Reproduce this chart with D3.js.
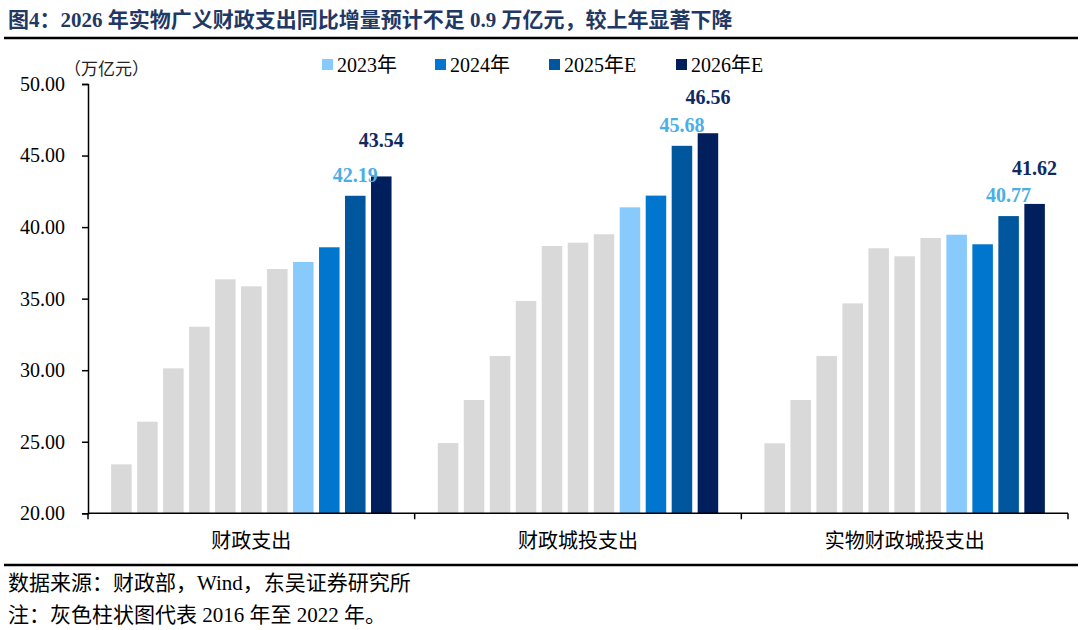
<!DOCTYPE html>
<html><head><meta charset="utf-8">
<script src="https://cdn.jsdelivr.net/npm/d3@7/dist/d3.min.js"></script>
<style>
html,body{margin:0;padding:0;background:#fff;}
svg{display:block;}
text{font-family:"Liberation Serif","Noto Sans CJK SC",serif;}
</style></head>
<body>
<svg id="c" width="1080" height="630"></svg>
<script>
// ---- data ----
const categories = ["财政支出", "财政城投支出", "实物财政城投支出"];
const years = ["2016","2017","2018","2019","2020","2021","2022","2023年","2024年","2025年E","2026年E"];
const fiscalSpend   = [23.42, 26.40, 30.13, 33.04, 36.35, 35.86, 37.07, 37.56, 38.59, 42.19, 43.54];
const fiscalLgfv    = [24.91, 27.92, 30.99, 34.84, 38.68, 38.91, 39.50, 41.38, 42.20, 45.68, 46.56];
const realFiscal    = [24.89, 27.92, 30.99, 34.67, 38.52, 37.96, 39.24, 39.47, 38.80, 40.77, 41.62];
const seriesByCategory = [fiscalSpend, fiscalLgfv, realFiscal];
const legendYears = ["2023年", "2024年", "2025年E", "2026年E"];
const yTicks = [20, 25, 30, 35, 40, 45, 50];

const colors = {"2023年":"#87CAFB","2024年":"#0076CF","2025年E":"#01579D","2026年E":"#011F5C"};
const gray = "#D9D9D9";
const labelColors = {"2025年E":"#4BAEE6","2026年E":"#0F2A63"};

const svg = d3.select("#c");
const mLeft = 88, mRight = 1068, mTop = 84, mBottom = 513.3;

const y = d3.scaleLinear().domain([20, 50]).range([mBottom, mTop]);
const xg = d3.scaleBand().domain(categories).range([mLeft, mRight]).paddingInner(0).paddingOuter(0);
const xb = d3.scaleBand().domain(years).range([0, xg.bandwidth()]).paddingInner(0.21).paddingOuter(0.89);

// title
svg.append("text").attr("x", 8).attr("y", 27)
  .attr("font-size", 21).attr("font-weight", "bold").attr("fill", "#1F3864")
  .text("图4：2026 年实物广义财政支出同比增量预计不足 0.9 万亿元，较上年显著下降");
svg.append("line").attr("x1", 4).attr("x2", 1078).attr("y1", 38).attr("y2", 38)
  .attr("stroke", "#000").attr("stroke-width", 2.5);

// unit
svg.append("text").attr("x", 64).attr("y", 75).attr("font-size", 17)
  .attr("font-family", "Noto Sans CJK SC").attr("fill", "#222").text("（万亿元）");

// legend
const legX = [322, 435, 549, 676];
legendYears.forEach((k, i) => {
  svg.append("rect").attr("x", legX[i]).attr("y", 59).attr("width", 11).attr("height", 11).attr("fill", colors[k]);
  svg.append("text").attr("x", legX[i] + 15).attr("y", 72).attr("font-size", 20).attr("fill", "#000").text(k);
});

// bars
categories.forEach((cat, ci) => {
  const g = svg.append("g").attr("transform", `translate(${xg(cat)},0)`);
  const vals = seriesByCategory[ci];
  g.selectAll("rect").data(years).join("rect")
    .attr("x", d => xb(d)).attr("width", xb.bandwidth())
    .attr("y", (d, i) => y(vals[i])).attr("height", (d, i) => mBottom - y(vals[i]))
    .attr("fill", d => colors[d] || gray);
  ["2025年E", "2026年E"].forEach(k => {
    const i = years.indexOf(k);
    const off = k === "2025年E" ? 14 : 29;
    g.append("text").attr("x", xb(k) + xb.bandwidth() / 2).attr("y", y(vals[i]) - off)
      .attr("text-anchor", "middle").attr("font-size", 20).attr("font-weight", "bold")
      .attr("fill", labelColors[k]).text(d3.format(".2f")(vals[i]));
  });
});

// y axis
const ya = svg.append("g").attr("transform", `translate(${mLeft},0)`)
  .call(d3.axisLeft(y).tickValues(yTicks).tickFormat(d3.format(".2f")).tickSize(6).tickPadding(17));
ya.select(".domain").attr("stroke", "#000").attr("stroke-width", 1.5);
ya.selectAll(".tick line").attr("stroke", "#000").attr("stroke-width", 1.5);
ya.selectAll(".tick text").attr("font-size", 20).attr("fill", "#000")
  .attr("font-family", "Liberation Serif");

// x axis
svg.append("line").attr("x1", mLeft).attr("x2", mRight).attr("y1", mBottom).attr("y2", mBottom)
  .attr("stroke", "#000").attr("stroke-width", 1.5);
const bounds = categories.map(c => xg(c)).concat([mRight]);
svg.selectAll(".xt").data(bounds).join("line").attr("class", "xt")
  .attr("x1", d => d).attr("x2", d => d).attr("y1", mBottom).attr("y2", mBottom + 6)
  .attr("stroke", "#000").attr("stroke-width", 1.5);
svg.selectAll(".xl").data(categories).join("text").attr("class", "xl")
  .attr("x", d => xg(d) + xg.bandwidth() / 2).attr("y", 548)
  .attr("text-anchor", "middle").attr("font-size", 20)
  .attr("font-family", "Noto Sans CJK SC").attr("fill", "#000").text(d => d);

// footer
svg.append("line").attr("x1", 4).attr("x2", 1078).attr("y1", 565).attr("y2", 565)
  .attr("stroke", "#000").attr("stroke-width", 2.5);
svg.append("text").attr("x", 8).attr("y", 590).attr("font-size", 21).attr("fill", "#000")
  .text("数据来源：财政部，Wind，东吴证券研究所");
svg.append("text").attr("x", 8).attr("y", 622).attr("font-size", 21).attr("fill", "#000")
  .text("注：灰色柱状图代表 2016 年至 2022 年。");
</script>
</body></html>
